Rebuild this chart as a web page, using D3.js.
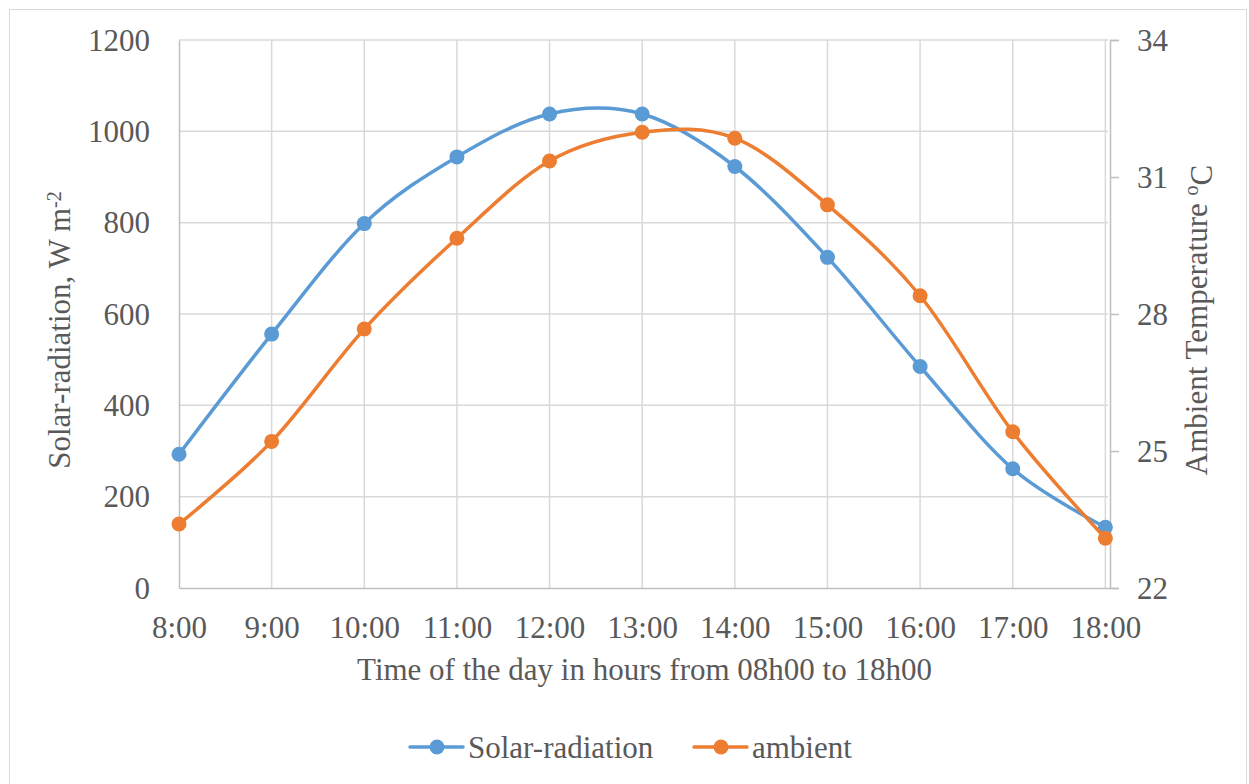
<!DOCTYPE html>
<html>
<head>
<meta charset="utf-8">
<script src="https://cdn.jsdelivr.net/npm/d3@7"></script>
<style>
  html, body { margin: 0; padding: 0; background: #fff; }
  svg { display: block; }
  text { font-family: "Liberation Serif", "Times New Roman", "DejaVu Serif", serif; fill: #595959; }
</style>
</head>
<body>
<svg id="chart" width="1249" height="784"></svg>
<script>
// Hourly readings, 08h00 to 18h00
const hours = [8, 9, 10, 11, 12, 13, 14, 15, 16, 17, 18];
const hourLabels = ["8:00", "9:00", "10:00", "11:00", "12:00", "13:00", "14:00", "15:00", "16:00", "17:00", "18:00"];
const solarRadiation = [293, 556, 798, 944, 1038, 1038, 923, 724, 485, 261, 133];   // W m-2
const ambientTemp = [23.40, 25.21, 27.67, 29.66, 31.35, 31.98, 31.85, 30.39, 28.40, 25.42, 23.09]; // °C
const leftTicks = [0, 200, 400, 600, 800, 1000, 1200];
const rightTicks = [22, 25, 28, 31, 34];

const seriesNames = ["Solar-radiation", "ambient"];
const colors = ["#5B9BD5", "#ED7D31"];

const FONT = "'Liberation Serif', 'Times New Roman', serif";
const svg = d3.select("#chart");
const plot = { left: 179, right: 1110, top: 40, bottom: 588 };

// Outer chart frame
svg.append("rect")
  .attr("x", 9.5).attr("y", 9.5)
  .attr("width", 1237).attr("height", 790)
  .attr("fill", "#fff").attr("stroke", "#d9d9d9").attr("stroke-width", 1);

const x = d3.scaleLinear().domain([8, 18.05]).range([plot.left, plot.right]);
const yL = d3.scaleLinear().domain([0, 1200]).range([plot.bottom, plot.top]);
const yR = d3.scaleLinear().domain([22, 34]).range([plot.bottom, plot.top]);

// Gridlines
const grid = svg.append("g").attr("stroke", "#d9d9d9").attr("stroke-width", 1.5);
leftTicks.filter(d => d > 0).forEach(v => {
  grid.append("line")
    .attr("x1", plot.left).attr("x2", plot.right - 2)
    .attr("y1", yL(v)).attr("y2", yL(v));
});
hours.slice(1).forEach(h => {
  grid.append("line")
    .attr("x1", x(h)).attr("x2", x(h))
    .attr("y1", plot.top).attr("y2", plot.bottom);
});

function styleTicks(g) {
  g.attr("font-family", FONT).attr("font-size", 31);
  g.selectAll("text").attr("fill", "#595959");
}

// Left axis
const axisLeft = d3.axisLeft(yL).tickValues(leftTicks).tickFormat(d3.format("d"))
  .tickSize(0).tickPadding(29);
const gL = svg.append("g").attr("transform", `translate(${plot.left},0)`).call(axisLeft);
gL.select(".domain").attr("stroke", "#bfbfbf").attr("stroke-width", 1.5);
styleTicks(gL);
gL.selectAll("text").attr("dy", "0.33em");

// Bottom axis
const axisBottom = d3.axisBottom(x).tickValues(hours)
  .tickFormat((d, i) => hourLabels[i]).tickSize(0).tickPadding(28);
const gB = svg.append("g").attr("transform", `translate(0,${plot.bottom})`).call(axisBottom);
gB.select(".domain").attr("stroke", "#bfbfbf").attr("stroke-width", 1.5);
styleTicks(gB);
gB.selectAll("text").attr("dy", "0.71em");

// Right axis
const axisRight = d3.axisRight(yR).tickValues(rightTicks).tickFormat(d3.format("d"))
  .tickSize(9).tickPadding(18);
const gR = svg.append("g").attr("transform", `translate(${plot.right},0)`).call(axisRight);
gR.select(".domain").attr("stroke", "#bfbfbf").attr("stroke-width", 1.5);
gR.selectAll(".tick line").attr("stroke", "#bfbfbf").attr("stroke-width", 1.5);
styleTicks(gR);
gR.selectAll("text").attr("dy", "0.33em");

// Smoothed series lines with markers
const curve = d3.curveCardinal.tension(0);
const solarLine = d3.line().x((d, i) => x(hours[i])).y(d => yL(d)).curve(curve);
const tempLine = d3.line().x((d, i) => x(hours[i])).y(d => yR(d)).curve(curve);

function drawSeries(values, line, yScale, color) {
  const g = svg.append("g");
  g.append("path").datum(values)
    .attr("d", line).attr("fill", "none")
    .attr("stroke", color).attr("stroke-width", 3.5)
    .attr("stroke-linejoin", "round").attr("stroke-linecap", "round");
  g.selectAll("circle").data(values).join("circle")
    .attr("cx", (d, i) => x(hours[i])).attr("cy", d => yScale(d))
    .attr("r", 7.5).attr("fill", color);
}
drawSeries(solarRadiation, solarLine, yL, colors[0]);
drawSeries(ambientTemp, tempLine, yR, colors[1]);

// Axis titles
const leftTitle = svg.append("text")
  .attr("transform", "translate(70,330) rotate(-90)")
  .attr("text-anchor", "middle").attr("font-size", 31);
leftTitle.append("tspan").text("Solar-radiation, W m");
leftTitle.append("tspan").attr("dy", "-0.45em").attr("font-size", 20).text("-2");

const rightTitle = svg.append("text")
  .attr("transform", "translate(1207,320) rotate(-90)")
  .attr("text-anchor", "middle").attr("font-size", 31);
rightTitle.append("tspan").text("Ambient Temperature ");
rightTitle.append("tspan").attr("dy", "-0.45em").attr("font-size", 20).text("o");
rightTitle.append("tspan").attr("dy", "0.45em").text("C");

svg.append("text")
  .attr("x", (plot.left + plot.right) / 2).attr("y", 680)
  .attr("text-anchor", "middle").attr("font-size", 31)
  .text("Time of the day in hours from 08h00 to 18h00");

// Legend
const legendItems = [
  { name: seriesNames[0], color: colors[0], x0: 410 },
  { name: seriesNames[1], color: colors[1], x0: 694 }
];
const legY = 747;
legendItems.forEach(it => {
  const g = svg.append("g");
  g.append("line").attr("x1", it.x0).attr("x2", it.x0 + 53)
    .attr("y1", legY).attr("y2", legY)
    .attr("stroke", it.color).attr("stroke-width", 3.5).attr("stroke-linecap", "round");
  g.append("circle").attr("cx", it.x0 + 27).attr("cy", legY).attr("r", 7.5).attr("fill", it.color);
  g.append("text").attr("x", it.x0 + 58).attr("y", legY + 11)
    .attr("font-size", 31).text(it.name);
});
</script>
</body>
</html>
